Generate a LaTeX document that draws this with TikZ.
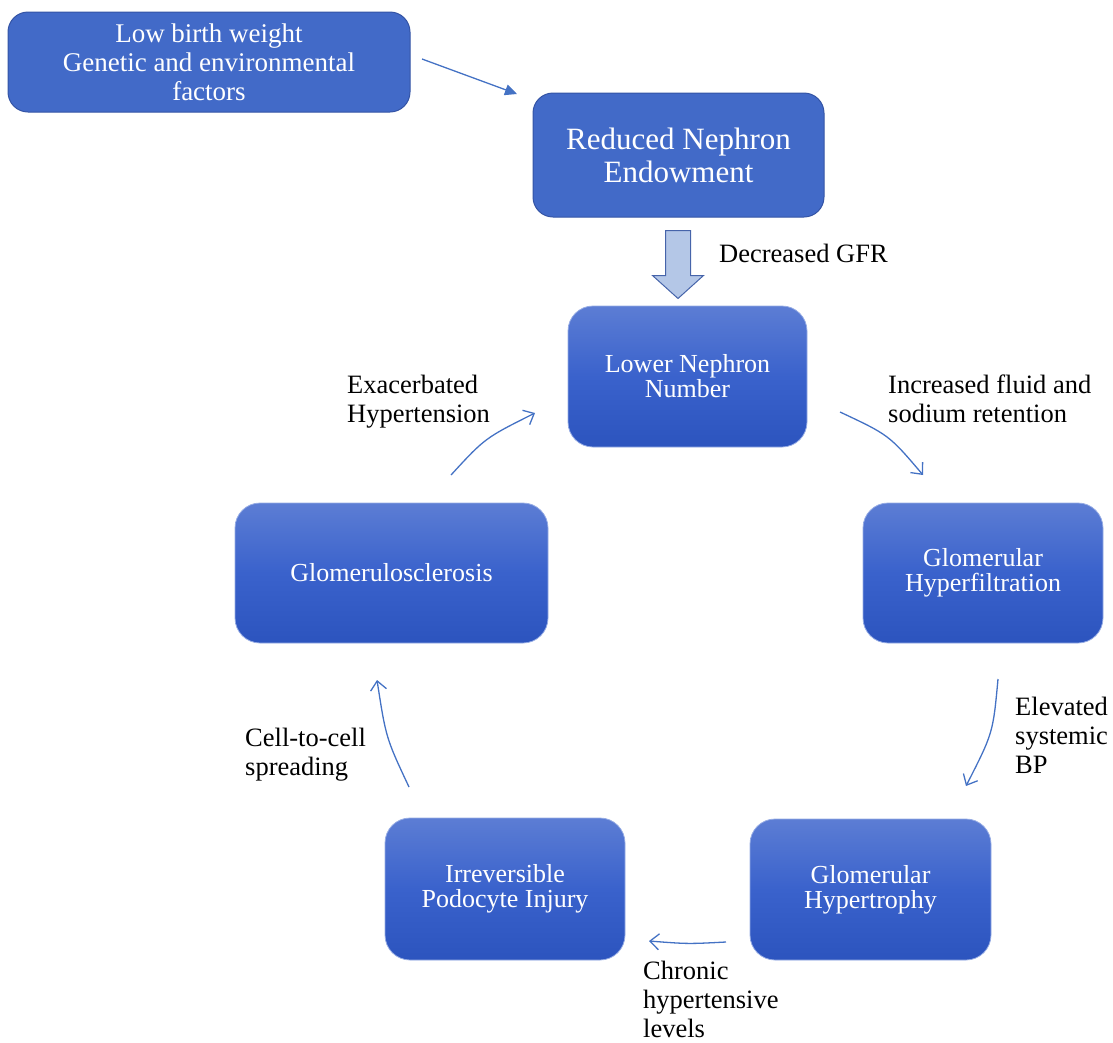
\documentclass[tikz,border=0pt]{standalone}
\usepackage{fontspec}
\setmainfont{Liberation Serif}
\usetikzlibrary{arrows.meta,calc}
\definecolor{flatblue}{RGB}{66,106,200}
\definecolor{flatedge}{RGB}{52,84,165}
\definecolor{gtop}{RGB}{92,125,212}
\definecolor{gmid}{RGB}{58,98,204}
\definecolor{gbot}{RGB}{44,84,190}
\definecolor{gedge}{RGB}{150,172,228}
\definecolor{arrowblue}{RGB}{68,114,196}
\definecolor{blockfill}{RGB}{180,199,231}
\definecolor{blockedge}{RGB}{70,100,170}
\begin{document}
\begin{tikzpicture}[x=1pt,y=-1pt,
  flatbox/.style={draw=flatedge, line width=1, fill=flatblue, rounded corners=20, text=white, align=center, inner sep=0},
  cyclebox/.style={draw=gedge, line width=0.8, top color=gtop, bottom color=gbot, middle color=gmid, rounded corners=25, text=white, align=center, inner sep=0, font=\fontsize{26}{25}\selectfont},
  lbl/.style={anchor=north west, align=left, inner sep=0, font=\fontsize{26.5}{29}\selectfont, text=black},
  flow/.style={draw=arrowblue, line width=1.3, -{Straight Barb[length=9,width=16]}},
]
\useasboundingbox (0,0) rectangle (1113,1042);

% boxes
\node[flatbox, minimum width=402, minimum height=100, font=\fontsize{27}{29}\selectfont] (low) at (209,62) {Low birth weight\\Genetic and environmental\\factors};
\node[flatbox, minimum width=291, minimum height=124, font=\fontsize{31}{33}\selectfont] (red) at (678.5,155) {Reduced Nephron\\Endowment};
\node[cyclebox, minimum width=239, minimum height=141] (lnn) at (687.5,376.5) {Lower Nephron\\Number};
\node[cyclebox, minimum width=240, minimum height=140] (hyf) at (983,573) {Glomerular\\Hyperfiltration};
\node[cyclebox, minimum width=241, minimum height=141] (hyt) at (870.5,889.5) {Glomerular\\Hypertrophy};
\node[cyclebox, minimum width=240, minimum height=142] (pod) at (505,889) {Irreversible\\Podocyte Injury};
\node[cyclebox, minimum width=313, minimum height=140] (glo) at (391.5,573) {Glomerulosclerosis};

% block arrow
\path (red.south) ++(-0.5,13) coordinate (ga);
\draw[blockedge, fill=blockfill, line width=1, line join=miter]
  ($(ga)+(-12.5,0)$) -- ($(ga)+(12.5,0)$) -- ($(ga)+(12.5,45)$) -- ($(ga)+(25.5,45)$)
  -- ($(ga)+(0,68)$) -- ($(ga)+(-25.5,45)$) -- ($(ga)+(-12.5,45)$) -- cycle;

% connector end points
\coordinate (a1s) at (422,59);  \coordinate (a1e) at (517,94);
\coordinate (a2s) at (840,412); \coordinate (a2e) at (923,475);
\coordinate (a3s) at (998,679); \coordinate (a3e) at (966,786);
\coordinate (a4s) at (726,942); \coordinate (a4e) at (649,941);
\coordinate (a5s) at (409,787); \coordinate (a5e) at (377,680);
\coordinate (a6s) at (451,475); \coordinate (a6e) at (535,413);

\draw[draw=arrowblue, line width=1.3, -{Triangle[length=12,width=11]}] (a1s) -- (a1e);
\draw[flow] (a2s) .. controls (889,435) .. (a2e);
\draw[flow] (a3s) .. controls (993,733) .. (a3e);
\draw[flow] (a4s) .. controls (688,944) .. (a4e);
\draw[flow] (a5s) .. controls (386,738) .. (a5e);
\draw[flow] (a6s) .. controls (485,438) .. (a6e);

% labels
\node[lbl, anchor=base west] (lgfr) at (719,262) {Decreased GFR};
\node[lbl] (lfl) at (888,375) {Increased fluid and\\sodium retention};
\node[lbl] (lbp) at (1015,697) {Elevated\\systemic\\BP};
\node[lbl] (lch) at (643,961) {Chronic\\hypertensive\\levels};
\node[lbl] (lcc) at (245,728) {Cell-to-cell\\spreading};
\node[lbl] (lex) at (347,375) {Exacerbated\\Hypertension};
\end{tikzpicture}
\end{document}
